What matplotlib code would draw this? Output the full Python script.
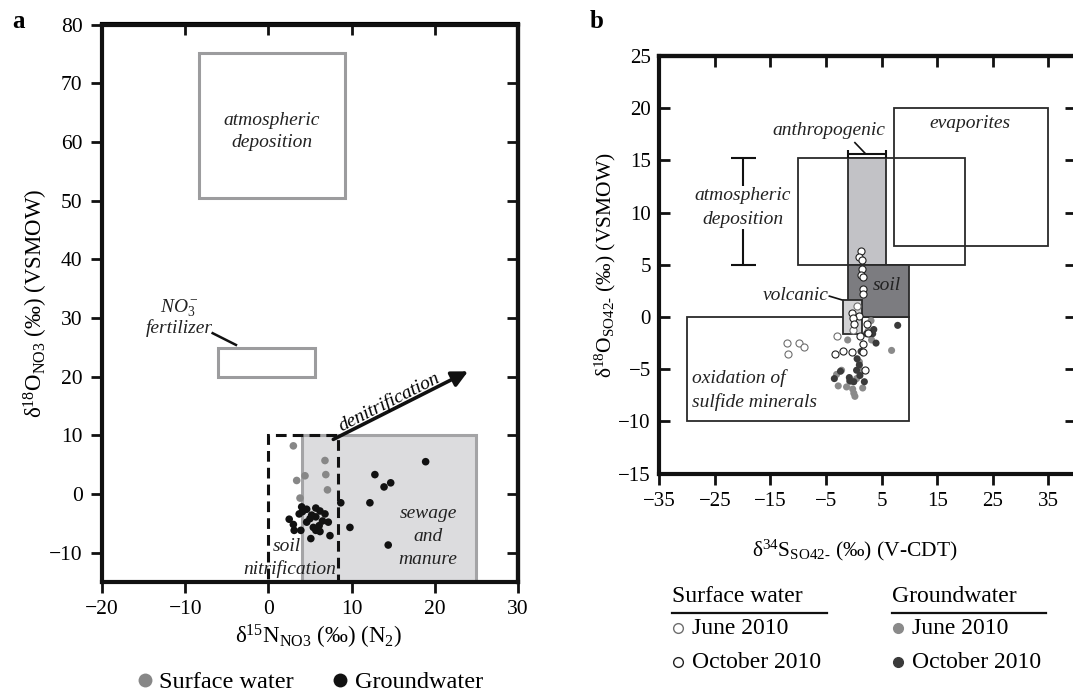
import numpy as np
import matplotlib
matplotlib.use("Agg")
import matplotlib.pyplot as plt
from matplotlib.patches import Rectangle
from matplotlib.lines import Line2D
import matplotlib.transforms as mtransforms

plt.rcParams['font.family'] = ['Liberation Serif', 'DejaVu Serif']
plt.rcParams['mathtext.fontset'] = 'custom'
plt.rcParams['mathtext.rm'] = 'Liberation Serif'
plt.rcParams['mathtext.it'] = 'Liberation Serif:italic'
plt.rcParams['mathtext.bf'] = 'Liberation Serif:bold'

# ---------------- panel a: nitrate isotopes ----------------
sw_d15n = [3.0, 6.8, 4.4, 3.4, 6.9, 7.1, 3.8]
sw_d18o_no3 = [8.2, 5.7, 3.1, 2.3, 3.3, 0.7, -0.7]

gw_d15n = [18.9, 12.8, 13.9, 14.7, 8.7, 12.2, 9.8, 14.4,
           4.0, 4.6, 4.1, 5.7, 6.2, 6.8, 5.2, 5.7, 2.5, 3.0, 4.6, 7.2,
           3.1, 3.9, 5.4, 6.2, 5.7, 7.4, 5.1, 6.5, 6.1, 5.0, 3.7]
gw_d18o_no3 = [5.5, 3.3, 1.2, 1.9, -1.5, -1.5, -5.7, -8.7,
               -2.2, -2.6, -3.0, -2.4, -2.9, -3.4, -3.6, -3.9, -4.3, -5.2, -4.8, -4.8,
               -6.2, -6.2, -5.7, -6.4, -6.2, -7.1, -7.6, -4.6, -5.4, -4.2, -3.4]

# nitrate source fields: (xmin, xmax, ymin, ymax)
no3_atmospheric = (-8.4, 9.2, 50.5, 75.1)
no3_fertilizer = (-6.0, 5.6, 20.0, 24.9)
no3_sewage = (4.0, 25.0, -15.0, 10.1)
no3_soil = (0.0, 8.4, -15.0, 10.1)
denit_start = (7.8, 9.3)
denit_end = (24.0, 20.9)

a_xticks = [-20, -10, 0, 10, 20, 30]
a_yticks = [-10, 0, 10, 20, 30, 40, 50, 60, 70, 80]

# ---------------- panel b: sulfate isotopes ----------------
swj_d34s = [-12.1, -9.8, -8.9, -11.9, -3.1, 0.6, -0.1]
swj_d18o = [-2.5, -2.5, -2.9, -3.5, -1.8, 1.05, -1.2]

swo_d34s = [1.3, 0.9, 1.4, 1.5, 1.3, 1.6, 1.7, 1.7, -0.4, 1.0, -0.2, 0.0,
            2.3, 2.6, 1.2, -0.4, 1.6, 2.0, -3.4, -1.9, 1.7]
swo_d18o = [6.3, 5.7, 5.5, 4.6, 4.0, 3.8, 2.7, 2.2, 0.4, 0.1, -0.1, -0.7,
            -0.7, -1.5, -1.8, -3.4, -3.4, -5.1, -3.5, -3.3, -2.6]

gwj_d34s = [3.1, 6.8, -1.1, -3.1, -2.8, -1.3, -0.2, 0.2, 1.6, 1.4, 1.0,
            3.2, 2.6, -2.2, 0.5, -0.7, 0.0]
gwj_d18o = [-0.35, -3.2, -2.2, -5.5, -6.6, -6.7, -6.9, -7.6, -6.8, -5.2, -4.3,
            -2.2, -1.3, -5.1, -5.9, -6.2, -7.3]

gwo_d34s = [7.9, 4.0, 3.4, 1.7, 1.3, 0.6, 1.0, 0.5, 1.1, -2.4, -3.5, -0.8,
            -0.7, 0.0, 1.9, 2.3, 3.6]
gwo_d18o = [-0.8, -2.5, -1.6, -2.6, -3.3, -4.0, -4.6, -5.1, -5.6, -5.2, -5.9, -5.8,
            -6.1, -6.2, -6.2, -1.6, -1.2]

# sulfate source fields: (xmin, xmax, ymin, ymax)
so4_atmospheric = (-10.0, 20.0, 5.0, 15.2)
so4_evaporites = (7.3, 35.0, 6.8, 20.0)
so4_anthropogenic = (-1.0, 5.8, 5.0, 15.2)
so4_soil = (-1.0, 10.0, 0.0, 5.0)
so4_volcanic = (-1.9, 1.4, -1.6, 1.6)
so4_sulfide = (-30.0, 10.0, -10.0, 0.0)

b_xticks = [-35, -25, -15, -5, 5, 15, 25, 35]
b_yticks = [-15, -10, -5, 0, 5, 10, 15, 20, 25]

# ---------------- figure ----------------
W, H = 1073, 692
fig = plt.figure(figsize=(W / 100, H / 100), dpi=100)


def box(ax, ext, **kw):
    x0, x1, y0, y1 = ext
    r = Rectangle((x0, y0), x1 - x0, y1 - y0, **kw)
    ax.add_patch(r)
    return r


def style_axes(ax, xt, yt, left_dir, bottom_dir, fs):
    for s in ax.spines.values():
        s.set_linewidth(3)
        s.set_color('#111111')
    ax.set_xticks(xt)
    ax.set_yticks(yt)
    ax.tick_params(axis='x', direction=bottom_dir, length=8, width=2,
                   labelsize=fs, pad=5, color='#111111')
    ax.tick_params(axis='y', direction=left_dir, length=8, width=2,
                   labelsize=fs, pad=6, color='#111111')
    top = ax.secondary_xaxis('top')
    top.set_xticks(xt)
    top.tick_params(direction='in', length=8, width=2, labeltop=False, color='#111111')
    top.spines['top'].set_linewidth(3)
    right = ax.secondary_yaxis('right')
    right.set_yticks(yt)
    right.tick_params(direction='in', length=8, width=2, labelright=False, color='#111111')
    right.spines['right'].set_linewidth(3)


# ---- panel a ----
axa = fig.add_axes([102 / W, 1 - 582 / H, 416 / W, (582 - 24.5) / H])
axa.set_xlim(-20, 30)
axa.set_ylim(-15, 80)
style_axes(axa, a_xticks, a_yticks, 'out', 'out', 15.5)

box(axa, no3_sewage, facecolor='#dcdcde', edgecolor='#a4a4a6', lw=2.2, zorder=1)
box(axa, no3_atmospheric, facecolor='none', edgecolor='#9c9c9e', lw=2.2, zorder=1)
box(axa, no3_fertilizer, facecolor='none', edgecolor='#9c9c9e', lw=2.2, zorder=1)
box(axa, no3_soil, facecolor='none', edgecolor='#111111', lw=2.2,
    ls=(0, (3.5, 2)), zorder=2)

axa.scatter(sw_d15n, sw_d18o_no3, s=30, color='#878787', edgecolor='none', zorder=3)
axa.scatter(gw_d15n, gw_d18o_no3, s=30, color='#111111', edgecolor='none', zorder=4)

axa.annotate('', xy=denit_end, xytext=denit_start,
             arrowprops=dict(arrowstyle='-|>', lw=2.6, color='#111111',
                             mutation_scale=24, shrinkA=0, shrinkB=0), zorder=5)

# rotate the label along the arrow in screen space
p0 = axa.transData.transform(denit_start)
p1 = axa.transData.transform(denit_end)
ang = np.degrees(np.arctan2(p1[1] - p0[1], p1[0] - p0[0]))
mx = 15.0
my = denit_start[1] + (mx - denit_start[0]) * (denit_end[1] - denit_start[1]) / (denit_end[0] - denit_start[0])
off = mtransforms.offset_copy(axa.transData, fig=fig,
                              x=-np.sin(np.radians(ang)) * 2.5,
                              y=np.cos(np.radians(ang)) * 2.5, units='points')
axa.text(mx, my, 'denitrification', transform=off, rotation=ang,
         rotation_mode='anchor', ha='center', va='baseline',
         fontsize=14, style='italic', zorder=6)

itk = dict(fontsize=14, style='italic', color='#222222')
axa.text(0.4, 61.7, 'atmospheric\ndeposition', ha='center', va='center',
         linespacing=1.4, **itk)
axa.text(-10.7, 31.6, r'NO$_3^-$', ha='center', va='center', **itk)
axa.text(-10.7, 28.2, 'fertilizer', ha='center', va='center', **itk)
axa.plot([-6.7, -3.9], [27.4, 25.4], color='#111111', lw=1.8, zorder=2)
axa.text(19.2, -7.3, 'sewage\nand\nmanure', ha='center', va='center',
         linespacing=1.45, **itk)
axa.text(2.2, -9.0, 'soil', ha='center', va='center', zorder=6, **itk)
axa.text(2.6, -12.8, 'nitrification', ha='center', va='center', zorder=6, **itk)

axa.set_ylabel(r'δ$^{18}$O$_{\mathrm{NO3}}$ (‰) (VSMOW)', fontsize=16.5)
axa.yaxis.set_label_coords(-0.16, 0.5)
axa.yaxis.label.set_va('center')
axa.set_xlabel(r'δ$^{15}$N$_{\mathrm{NO3}}$ (‰) (N$_2$)', fontsize=16.5)
axa.xaxis.set_label_coords(0.52, -0.099)
axa.xaxis.label.set_va('center')

leg_a = [Line2D([], [], ls='none', marker='o', ms=10, color='#878787', mec='none'),
         Line2D([], [], ls='none', marker='o', ms=10, color='#111111', mec='none')]
fig.legend(leg_a, ['Surface water', 'Groundwater'], loc='center',
           bbox_to_anchor=(310 / W, 1 - 682 / H), ncol=2, frameon=False,
           fontsize=17.5, handlelength=0.6, handletextpad=0.3, columnspacing=1.6)

fig.text(12 / W, 1 - 22 / H, 'a', fontsize=18, fontweight='bold', va='center')

# ---- panel b ----
b_left = 659.3
b_px = 5.557
axb = fig.add_axes([b_left / W, 1 - 473.6 / H, 75 * b_px / W, (473.6 - 56) / H])
axb.set_xlim(-35, 40)
axb.set_ylim(-15, 25)
style_axes(axb, b_xticks, b_yticks, 'in', 'out', 15)

lk = dict(edgecolor='#2a2a2a', lw=1.3)
box(axb, so4_sulfide, facecolor='white', zorder=1, **lk)
box(axb, so4_atmospheric, facecolor='none', zorder=1, **lk)
box(axb, so4_evaporites, facecolor='none', zorder=1, **lk)
box(axb, so4_anthropogenic, facecolor='#c2c2c6', zorder=2, **lk)
box(axb, so4_soil, facecolor='#7c7c80', zorder=2, **lk)
box(axb, so4_volcanic, facecolor='#d2d2d4', zorder=3, **lk)

axb.scatter(gwj_d34s, gwj_d18o, s=26, color='#8a8a8a', edgecolor='none', zorder=4)
axb.scatter(gwo_d34s, gwo_d18o, s=26, color='#3a3a3a', edgecolor='none', zorder=5)
axb.scatter(swj_d34s, swj_d18o, s=26, facecolor='white', edgecolor='#6e6e6e',
            lw=0.8, zorder=6)
axb.scatter(swo_d34s, swo_d18o, s=26, facecolor='white', edgecolor='#222222',
            lw=0.8, zorder=7)

itb = dict(fontsize=14, style='italic', color='#222222')
axb.text(-4.4, 17.9, 'anthropogenic', ha='center', va='center', **itb)
axb.plot([0.2, 2.0], [16.7, 15.7], color='#111111', lw=1.2)
axb.errorbar([(so4_anthropogenic[0] + so4_anthropogenic[1]) / 2], [15.6],
             xerr=[(so4_anthropogenic[1] - so4_anthropogenic[0]) / 2],
             fmt='none', ecolor='#111111', elinewidth=1.5, capsize=3, capthick=1.5)
axb.errorbar([-20.0], [(so4_atmospheric[2] + so4_atmospheric[3]) / 2],
             yerr=[(so4_atmospheric[3] - so4_atmospheric[2]) / 2],
             fmt='none', ecolor='#111111', elinewidth=1.5, capsize=9, capthick=1.5)
axb.text(-20.0, 10.5, 'atmospheric\ndeposition', ha='center', va='center',
         linespacing=1.5, bbox=dict(facecolor='white', edgecolor='none', pad=1),
         **itb)
axb.text(20.9, 18.5, 'evaporites', ha='center', va='center', **itb)
axb.text(6.0, 3.0, 'soil', ha='center', va='center', zorder=8, **itb)
axb.text(-4.6, 2.1, 'volcanic', ha='right', va='center', **itb)
axb.plot([-4.4, -1.9], [2.0, 1.6], color='#111111', lw=1.2)
axb.text(-29.2, -7.0, 'oxidation of\nsulfide minerals', ha='left', va='center',
         linespacing=1.5, **itb)

axb.set_xlabel(r'δ$^{34}$S$_{\mathrm{SO42\text{-}}}$ (‰) (V-CDT)', fontsize=15.5)
axb.xaxis.set_label_coords(0.47, -0.185)
axb.xaxis.label.set_va('center')
axb.set_ylabel(r'δ$^{18}$O$_{\mathrm{SO42\text{-}}}$ (‰) (VSMOW)', fontsize=15.5)
axb.yaxis.set_label_coords(-0.13, 0.5)
axb.yaxis.label.set_va('center')

fig.text(590 / W, 1 - 22 / H, 'b', fontsize=18, fontweight='bold', va='center')

# legend of panel b: two titled columns
cols = [
    (672, 827, 'Surface water',
     [('June 2010', dict(mfc='white', mec='#6e6e6e')),
      ('October 2010', dict(mfc='white', mec='#222222'))]),
    (892, 1046, 'Groundwater',
     [('June 2010', dict(mfc='#8a8a8a', mec='#8a8a8a')),
      ('October 2010', dict(mfc='#3a3a3a', mec='#3a3a3a'))]),
]
for x0, x1, head, rows in cols:
    fig.text(x0 / W, 1 - 597 / H, head, fontsize=17, va='center', ha='left')
    fig.add_artist(Line2D([x0 / W, x1 / W], [1 - 613 / H, 1 - 613 / H],
                          color='#111111', lw=1.6))
    for i, (lab, mk) in enumerate(rows):
        yy = 1 - (628 + 34 * i) / H
        fig.add_artist(Line2D([(x0 + 6) / W], [yy], marker='o', ms=7, mew=1.0,
                              ls='none', **mk))
        fig.text((x0 + 20) / W, yy, lab, fontsize=17, va='center', ha='left')

fig.savefig('out.png', dpi=100)
